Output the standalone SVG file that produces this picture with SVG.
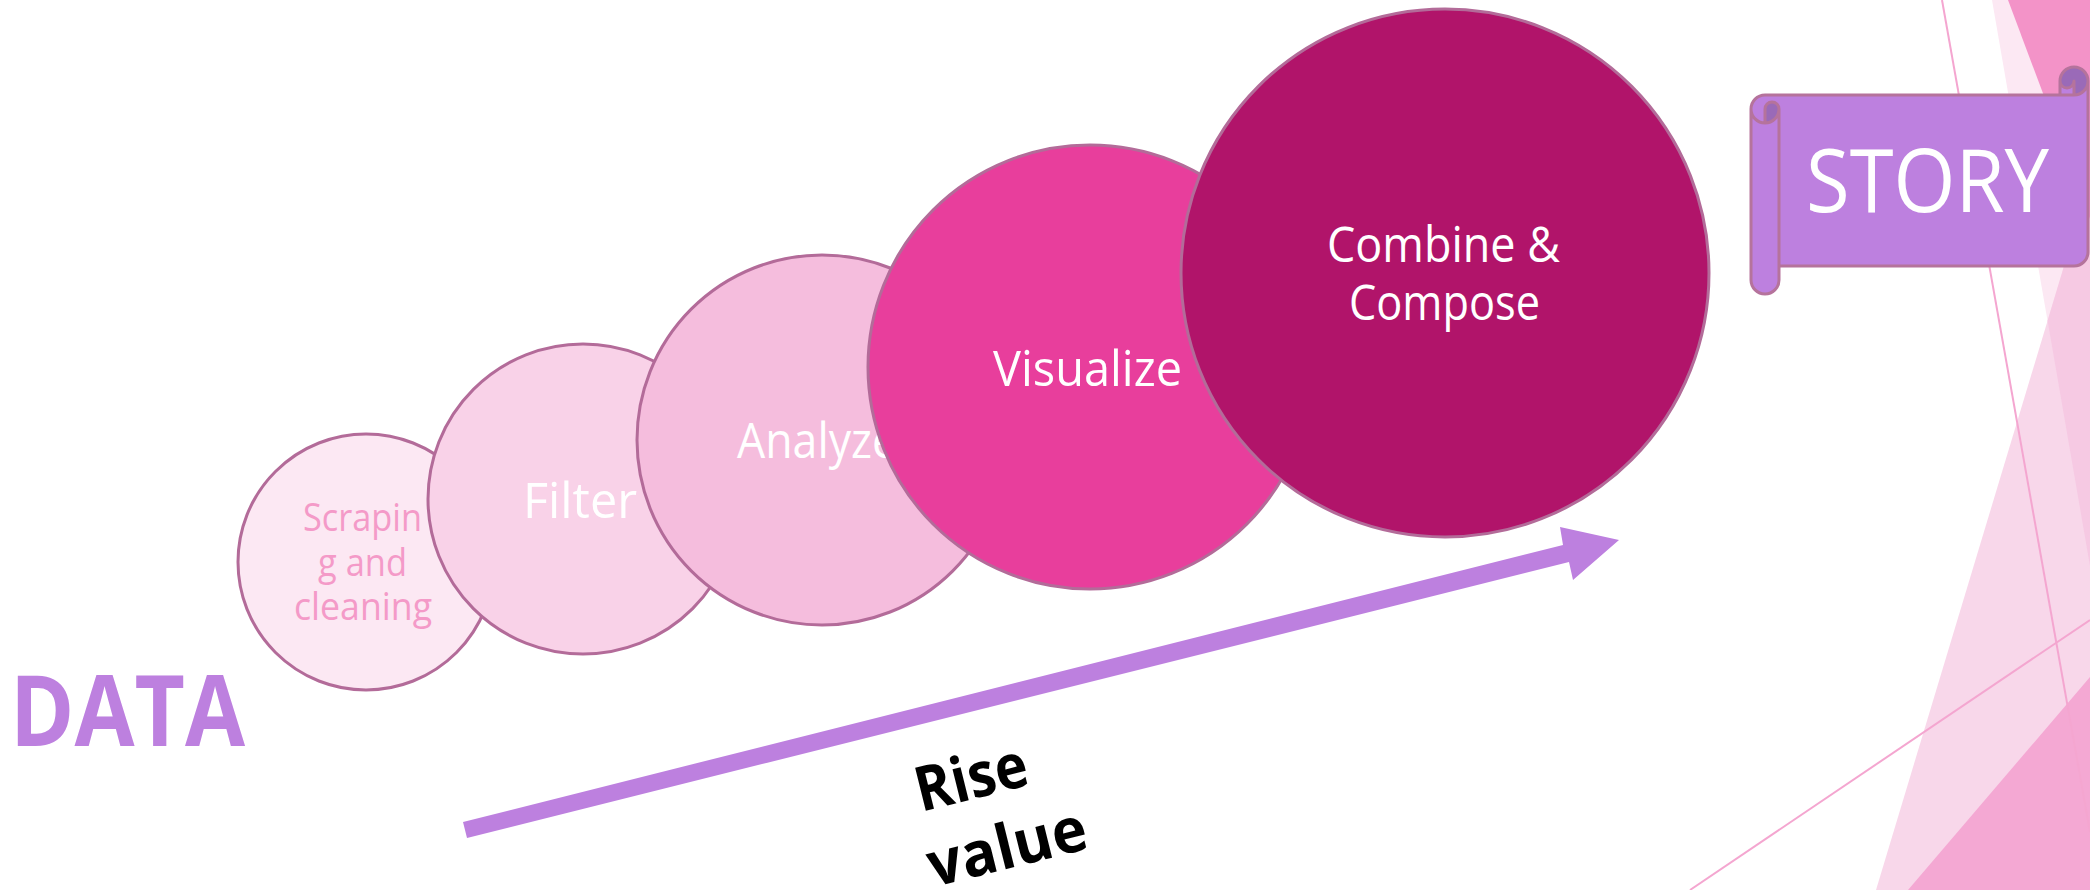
<svg xmlns="http://www.w3.org/2000/svg" width="2090" height="890" viewBox="0 0 2090 890">
  <style>
    .step { stroke: #b36b99; stroke-width: 3; }
    .lbl { font-family: "Open Sans", "Noto Sans", "DejaVu Sans", sans-serif; fill: #ffffff; }
    .facet-line { stroke: #f4a6d0; stroke-width: 2; fill: none; }
    .scroll-edge { fill: none; stroke: #b5739c; stroke-width: 3; stroke-linejoin: round; stroke-linecap: round; }
  </style>

  <rect x="0" y="0" width="2090" height="890" fill="#ffffff"/>

  <!-- faceted background on the right edge -->
  <g id="facets">
    <polygon points="1992,0 2090,0 2090,566" fill="#fce8f3"/>
    <polygon points="2090,180 2090,890 1876,890" fill="#f8d7ea"/>
    <polygon points="2090,180 2047.6,320.7 2090,566" fill="#f6c9e3"/>
    <polygon points="2008,0 2090,0 2090,219" fill="#f393c8"/>
    <polygon points="2090,677 1908,890 2090,890" fill="#f4a8d3"/>
    <line class="facet-line" x1="1942" y1="0" x2="2090" y2="832"/>
    <line class="facet-line" x1="1690" y1="890" x2="2090" y2="620"/>
  </g>

  <!-- rising arrow -->
  <g id="connectors">
    <polygon points="463,822 1563,545 1560,527 1619,540 1573,580 1569,562 467,838" fill="#bd80df"/>
  </g>

  <g id="label-data">
    <text x="10" y="746" font-family="'Open Sans', 'Noto Sans', sans-serif" font-weight="bold" font-size="98" fill="#bd80df" textLength="235" lengthAdjust="spacingAndGlyphs">DATA</text>
  </g>

  <g id="label-rise">
    <g font-family="'Open Sans', 'Noto Sans', sans-serif" font-weight="bold" font-size="62" fill="#000000">
      <text transform="translate(921,812) rotate(-14)" x="0" y="0" textLength="114" lengthAdjust="spacingAndGlyphs">Rise</text>
      <text transform="translate(921,812) rotate(-14)" x="-6" y="76" textLength="162" lengthAdjust="spacingAndGlyphs">value</text>
    </g>
  </g>

  <!-- process steps, smallest to largest -->
  <g id="step-scraping">
    <circle class="step" cx="366" cy="562" r="128" fill="#fce8f3"/>
    <g class="lbl" font-size="38" style="fill:#f49ac8">
      <text x="303" y="531" textLength="119" lengthAdjust="spacingAndGlyphs">Scrapin</text>
      <text x="318" y="576" textLength="89" lengthAdjust="spacingAndGlyphs">g and</text>
      <text x="294" y="620" textLength="138" lengthAdjust="spacingAndGlyphs">cleaning</text>
    </g>
  </g>

  <g id="step-filter">
    <circle class="step" cx="583" cy="499" r="155" fill="#f9d2e8"/>
    <text class="lbl" x="523" y="518" font-size="49" textLength="114" lengthAdjust="spacingAndGlyphs">Filter</text>
  </g>

  <g id="step-analyze">
    <circle class="step" cx="822" cy="440" r="185" fill="#f5bddd"/>
    <text class="lbl" x="737" y="458" font-size="49" textLength="160" lengthAdjust="spacingAndGlyphs">Analyze</text>
  </g>

  <g id="step-visualize">
    <circle class="step" cx="1090" cy="367" r="222" fill="#e83e9c"/>
    <text class="lbl" x="993" y="386" font-size="50" textLength="189" lengthAdjust="spacingAndGlyphs">Visualize</text>
  </g>

  <g id="step-combine">
    <circle class="step" cx="1445" cy="273" r="264" fill="#b1146a"/>
    <text class="lbl" x="1327" y="262" font-size="50" textLength="233" lengthAdjust="spacingAndGlyphs">Combine &amp;</text>
    <text class="lbl" x="1349" y="320" font-size="50" textLength="191" lengthAdjust="spacingAndGlyphs">Compose</text>
  </g>

  <!-- scroll banner -->
  <g id="story-scroll">
    <path fill="#bd80df" d="M2088,81 A14,14 0 0 1 2074,95 L2074,81 A7,7 0 0 1 2060,81 L2060,95 L1765,95 A14,14 0 0 0 1751,109 L1751,280 A14,14 0 0 0 1779,280 L1779,266 L2074,266 A14,14 0 0 0 2088,252 Z M1765,123 A14,14 0 0 0 1779,109 A7,7 0 0 0 1765,109 Z"/>
    <path fill="#9a6ab8" d="M1765,123 A14,14 0 0 0 1779,109 A7,7 0 0 0 1765,109 Z M2074,95 A14,14 0 1 0 2060,81 A7,7 0 0 0 2074,81 Z"/>
    <path class="scroll-edge" d="M1751,109 A14,14 0 0 1 1765,95 L2060,95 L2060,81 A14,14 0 0 1 2088,81 L2088,252 A14,14 0 0 1 2074,266 L1779,266 L1779,280 A14,14 0 0 1 1751,280 Z M2060,95 L2074,95 A14,14 0 0 0 2088,81 M2074,95 L2074,81 A7,7 0 0 1 2060,81 M1765,123 L1765,109 A7,7 0 0 1 1779,109 A14,14 0 0 1 1751,109 M1779,109 L1779,266"/>
    <text class="lbl" x="1806" y="212" font-size="88" textLength="243" lengthAdjust="spacingAndGlyphs">STORY</text>
  </g>
</svg>
